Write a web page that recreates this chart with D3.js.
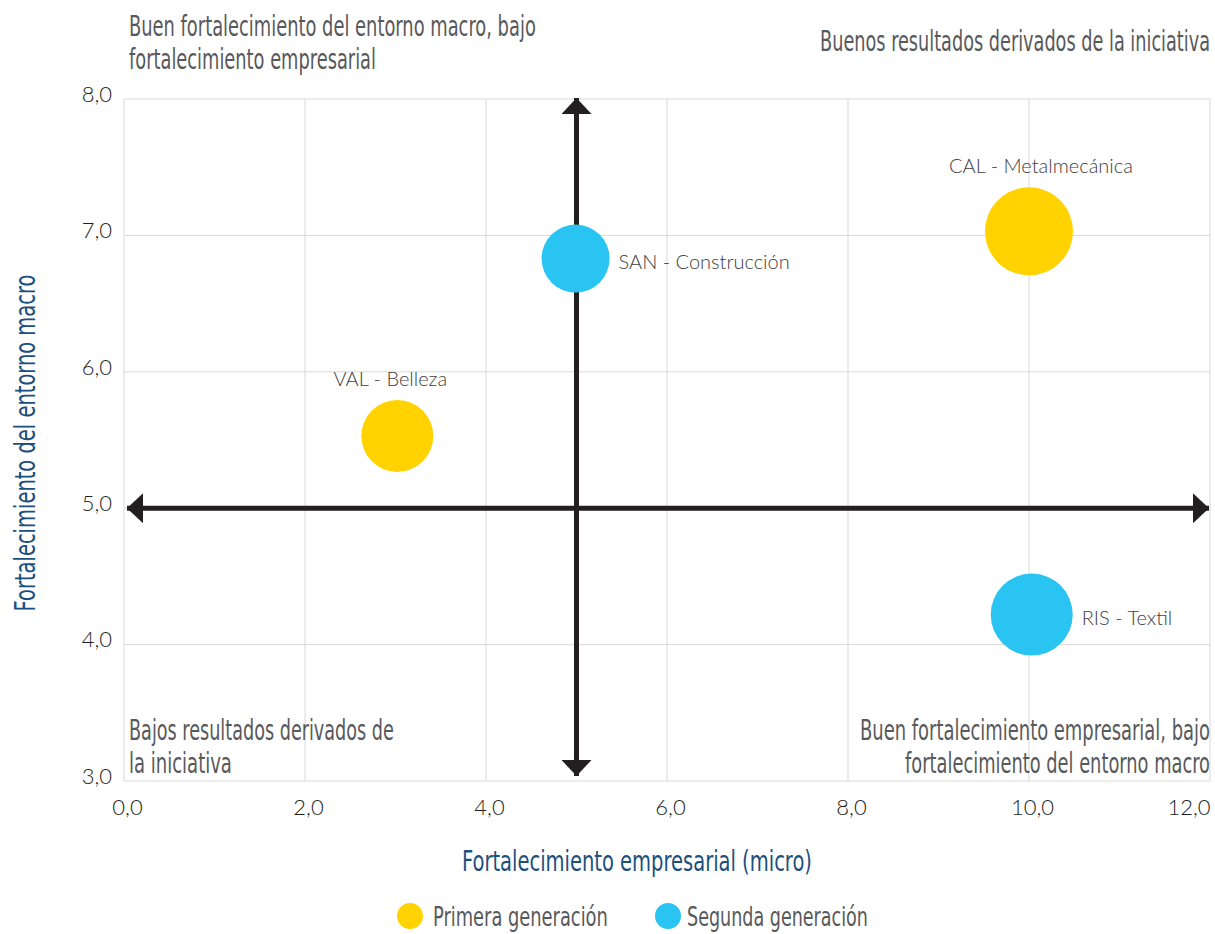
<!DOCTYPE html>
<html>
<head>
<meta charset="utf-8">
<script src="https://cdn.jsdelivr.net/npm/d3@7"></script>
<style>
  body { margin: 0; background: #fff; }
  .narrow { font-family: "DejaVu Sans", sans-serif; font-stretch: condensed; }
  .light { font-family: Lato, "Open Sans", sans-serif; font-weight: 300; }
</style>
</head>
<body>
<div id="chart"></div>
<script>
// datos
const labels = ["VAL - Belleza", "SAN - Construcción", "CAL - Metalmecánica", "RIS - Textil"];
const micro = [3.02, 4.99, 10.0, 10.03];
const macro = [5.53, 6.83, 7.03, 4.22];
const sizes = [1296, 1156, 1936, 1681];
const generation = [0, 1, 0, 1];
const legendLabels = ["Primera generación", "Segunda generación"];
const xTicks = [0, 2, 4, 6, 8, 10, 12];
const yTicks = [3, 4, 5, 6, 7, 8];
const colors = ["#ffd200", "#29c4f2"];

const width = 1215;
const height = 934;
const margin = { top: 99, right: 5, bottom: 153, left: 124 };

const x = d3.scaleLinear().domain([0, 12]).range([margin.left, width - margin.right]);
const y = d3.scaleLinear().domain([3, 8]).range([height - margin.bottom, margin.top]);
const r = d3.scaleSqrt().domain([0, 1936]).range([0, 44]);
const fmt = (d) => d.toFixed(1).replace(".", ",");

const svg = d3.select("#chart").append("svg").attr("width", width).attr("height", height);

// la fuente original es muy estrecha: se escala cada línea en horizontal hasta su ancho
function narrowText(parent, str, tx, ty, w, opts) {
  const o = Object.assign({ anchor: "start", size: 28, color: "#58595b", rotate: 0 }, opts);
  const g = parent.append("g");
  const t = g.append("text").attr("class", "narrow")
    .attr("font-size", o.size).attr("fill", o.color)
    .attr("text-anchor", o.anchor).text(str);
  const k = w / t.node().getComputedTextLength();
  g.attr("transform", `translate(${tx},${ty}) rotate(${o.rotate}) scale(${k},1)`);
  return g;
}

// rejilla
const grid = svg.append("g");
grid.selectAll(".gx").data(xTicks).join("line")
  .attr("x1", (d) => x(d)).attr("x2", (d) => x(d))
  .attr("y1", y(8)).attr("y2", y(3))
  .attr("stroke", "#d9d9d9").attr("stroke-width", 1);
grid.selectAll(".gy").data(yTicks).join("line")
  .attr("x1", x(0)).attr("x2", x(12))
  .attr("y1", (d) => y(d)).attr("y2", (d) => y(d))
  .attr("stroke", "#d9d9d9").attr("stroke-width", 1);

// ejes
const xAxis = svg.append("g")
  .attr("transform", `translate(0,${y(3)})`)
  .call(d3.axisBottom(x).tickValues(xTicks).tickFormat(fmt).tickSize(0).tickPadding(18));
const yAxis = svg.append("g")
  .attr("transform", `translate(${x(0)},0)`)
  .call(d3.axisLeft(y).tickValues(yTicks).tickFormat(fmt).tickSize(0).tickPadding(12));
[xAxis, yAxis].forEach((a) => {
  a.select(".domain").remove();
  a.selectAll("text").attr("class", "light").attr("font-size", 22).attr("fill", "#231f20");
});
yAxis.selectAll("text").attr("dy", "0.1em");
xAxis.selectAll("text").attr("dx", 3);
xAxis.selectAll(".tick").filter((d) => d === 12).select("text")
  .attr("text-anchor", "end").attr("dx", 0);

// textos de cuadrantes
const quad = [
  { lines: ["Buen fortalecimiento del entorno macro, bajo", "fortalecimiento empresarial"], w: [407, 247], x: 129, y: 36, anchor: "start" },
  { lines: ["Buenos resultados derivados de la iniciativa"], w: [390], x: 1210, y: 51, anchor: "end" },
  { lines: ["Bajos resultados derivados de", "la iniciativa"], w: [265, 103], x: 129, y: 740, anchor: "start" },
  { lines: ["Buen fortalecimiento empresarial, bajo", "fortalecimiento del entorno macro"], w: [350, 305], x: 1210, y: 740, anchor: "end" }
];
const quadG = svg.append("g");
quad.forEach((q) => {
  q.lines.forEach((l, i) => {
    narrowText(quadG, l, q.x, q.y + i * 33, q.w[i], { anchor: q.anchor });
  });
});

// flechas
const defs = svg.append("defs");
defs.append("marker").attr("id", "arrow")
  .attr("viewBox", "0 0 16 30").attr("refX", 16).attr("refY", 15)
  .attr("markerWidth", 16).attr("markerHeight", 30).attr("markerUnits", "userSpaceOnUse")
  .attr("orient", "auto-start-reverse")
  .append("path").attr("d", "M0,0L16,15L0,30Z").attr("fill", "#231f20");

svg.append("line")
  .attr("x1", x(0) + 3).attr("x2", x(12) - 1)
  .attr("y1", y(5)).attr("y2", y(5))
  .attr("stroke", "#231f20").attr("stroke-width", 5)
  .attr("marker-start", "url(#arrow)").attr("marker-end", "url(#arrow)");
svg.append("line")
  .attr("x1", x(5)).attr("x2", x(5))
  .attr("y1", y(8) - 1).attr("y2", y(3) - 5)
  .attr("stroke", "#231f20").attr("stroke-width", 5)
  .attr("marker-start", "url(#arrow)").attr("marker-end", "url(#arrow)");

// burbujas
const data = labels.map((l, i) => ({ label: l, x: micro[i], y: macro[i], s: sizes[i], g: generation[i] }));
svg.append("g").selectAll("circle").data(data).join("circle")
  .attr("cx", (d) => x(d.x)).attr("cy", (d) => y(d.y)).attr("r", (d) => r(d.s))
  .attr("fill", (d) => colors[d.g]);

// colocación de etiquetas: encima (centrada) o a la derecha
const labelPlace = {
  "VAL - Belleza": { pos: "top", dx: -7 },
  "SAN - Construcción": { pos: "right", dx: 0 },
  "CAL - Metalmecánica": { pos: "top", dx: 12 },
  "RIS - Textil": { pos: "right", dx: 0 }
};
svg.append("g").selectAll("text").data(data).join("text")
  .attr("class", "light").attr("font-size", 20).attr("fill", "#414042")
  .attr("x", (d) => {
    const p = labelPlace[d.label];
    return p.pos === "top" ? x(d.x) + p.dx : x(d.x) + r(d.s) + 9;
  })
  .attr("y", (d) => (labelPlace[d.label].pos === "top" ? y(d.y) - r(d.s) - 14 : y(d.y) + 10))
  .attr("text-anchor", (d) => (labelPlace[d.label].pos === "top" ? "middle" : "start"))
  .text((d) => d.label);

// títulos de ejes
const tColor = "#1b4f7e";
narrowText(svg, "Fortalecimiento empresarial (micro)", 637, 871, 350,
  { anchor: "middle", size: 29, color: tColor });
narrowText(svg, "Fortalecimiento del entorno macro", 35, (y(8) + y(3)) / 2 + 3, 337,
  { anchor: "middle", size: 29, color: tColor, rotate: -90 });

// leyenda
const legendX = [410, 668];
const legendW = [175, 181];
const legendDx = [23, 19];
const legend = svg.append("g");
legendLabels.forEach((l, i) => {
  legend.append("circle").attr("cx", legendX[i]).attr("cy", 916).attr("r", 13).attr("fill", colors[i]);
  narrowText(legend, l, legendX[i] + legendDx[i], 926, legendW[i], { size: 26 });
});
</script>
</body>
</html>
